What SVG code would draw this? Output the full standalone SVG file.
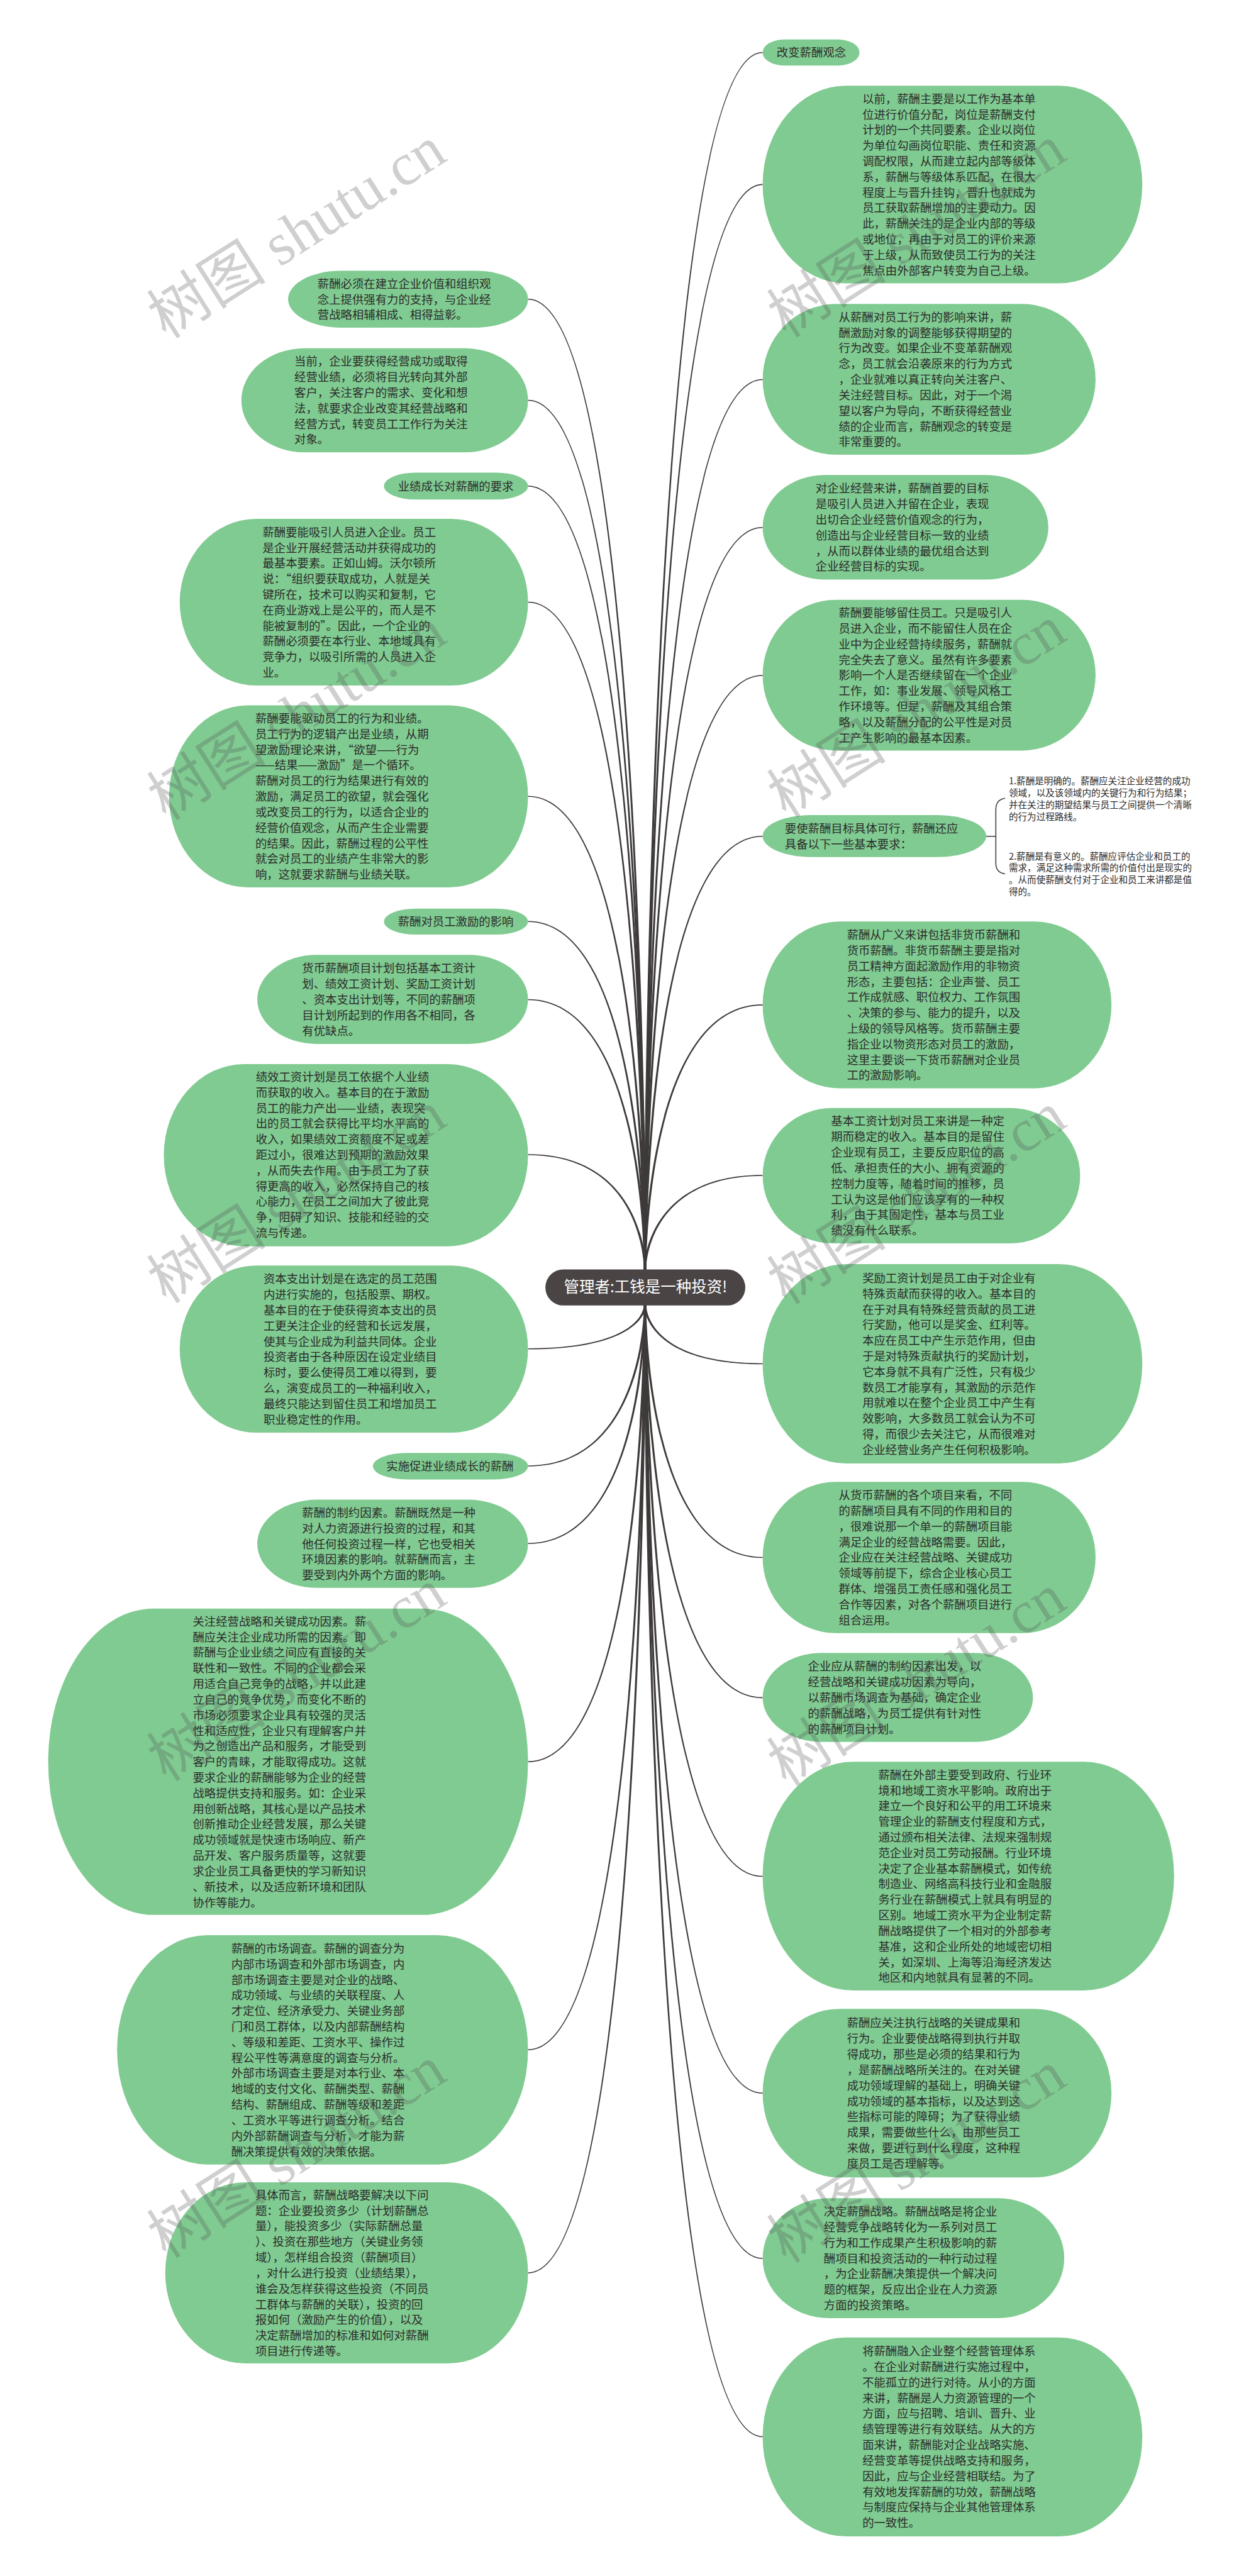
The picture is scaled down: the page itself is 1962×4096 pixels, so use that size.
<svg xmlns="http://www.w3.org/2000/svg" width="1962" height="4096" viewBox="0 0 1962 4096">
<style>
.n{fill:#80cb91}
.t{font-family:"Noto Sans CJK SC","Noto Sans",sans-serif;font-size:24px;fill:#2b2b2b}
.s{font-family:"Noto Sans CJK SC","Noto Sans",sans-serif;font-size:19px;fill:#2b2b2b}
.c{fill:#3e3a3a}
.b{fill:none;stroke:#3e3a3a;stroke-width:2}
.w{font-family:"Liberation Serif","Noto Sans CJK SC",serif;font-size:124px;fill:#555555;opacity:0.28}
</style>
<rect width="1962" height="4096" fill="#ffffff"/>
<g transform="scale(0.766)">
<g id="connectors">
<path class="c" d="M1336.5 2635C1336.5 2635 1337.5 107.5 1583 108L1583 110C1340.5 110.5 1341.5 2635 1341.5 2635Z"/>
<path class="c" d="M1336.5 2635C1336.5 2635 1337.5 381.5 1583 382L1583 384C1340.5 384.5 1341.5 2635 1341.5 2635Z"/>
<path class="c" d="M1336.5 2635C1336.5 2635 1337.5 786.5 1583 787L1583 789C1340.5 789.5 1341.5 2635 1341.5 2635Z"/>
<path class="c" d="M1336.5 2635C1336.5 2635 1337.5 1093.5 1583 1094L1583 1096C1340.5 1096.5 1341.5 2635 1341.5 2635Z"/>
<path class="c" d="M1336.5 2635C1336.5 2635 1337.5 1400.5 1583 1401L1583 1403C1340.5 1403.5 1341.5 2635 1341.5 2635Z"/>
<path class="c" d="M1336.5 2635C1336.5 2635 1337.5 1734.5 1583 1735L1583 1737C1340.5 1737.5 1341.5 2635 1341.5 2635Z"/>
<path class="c" d="M1336.5 2635C1336.5 2635 1337.5 2084.5 1583 2085L1583 2087C1340.5 2087.5 1341.5 2635 1341.5 2635Z"/>
<path class="c" d="M1336.5 2635C1336.5 2635 1337.5 2438.5 1583 2439L1583 2441C1340.5 2441.5 1341.5 2635 1341.5 2635Z"/>
<path class="c" d="M1336.5 2710C1336.5 2710 1337.5 2832.5 1583 2832L1583 2830C1340.5 2829.5 1341.5 2710 1341.5 2710Z"/>
<path class="c" d="M1336.5 2710C1336.5 2710 1337.5 3234.5 1583 3234L1583 3232C1340.5 3231.5 1341.5 2710 1341.5 2710Z"/>
<path class="c" d="M1336.5 2710C1336.5 2710 1337.5 3525.5 1583 3525L1583 3523C1340.5 3522.5 1341.5 2710 1341.5 2710Z"/>
<path class="c" d="M1336.5 2710C1336.5 2710 1337.5 3896.5 1583 3896L1583 3894C1340.5 3893.5 1341.5 2710 1341.5 2710Z"/>
<path class="c" d="M1336.5 2710C1336.5 2710 1337.5 4346.5 1583 4346L1583 4344C1340.5 4343.5 1341.5 2710 1341.5 2710Z"/>
<path class="c" d="M1336.5 2710C1336.5 2710 1337.5 4689.5 1583 4689L1583 4687C1340.5 4686.5 1341.5 2710 1341.5 2710Z"/>
<path class="c" d="M1336.5 2710C1336.5 2710 1337.5 5059.5 1583 5059L1583 5057C1340.5 5056.5 1341.5 2710 1341.5 2710Z"/>
<path class="c" d="M1341.5 2635C1341.5 2635 1340.5 619.5 1096 620L1096 622C1337.5 622.5 1336.5 2635 1336.5 2635Z"/>
<path class="c" d="M1341.5 2635C1341.5 2635 1340.5 829.5 1096 830L1096 832C1337.5 832.5 1336.5 2635 1336.5 2635Z"/>
<path class="c" d="M1341.5 2635C1341.5 2635 1340.5 1007.5 1096 1008L1096 1010C1337.5 1010.5 1336.5 2635 1336.5 2635Z"/>
<path class="c" d="M1341.5 2635C1341.5 2635 1340.5 1248.5 1096 1249L1096 1251C1337.5 1251.5 1336.5 2635 1336.5 2635Z"/>
<path class="c" d="M1341.5 2635C1341.5 2635 1340.5 1651.5 1096 1652L1096 1654C1337.5 1654.5 1336.5 2635 1336.5 2635Z"/>
<path class="c" d="M1341.5 2635C1341.5 2635 1340.5 1911.5 1096 1912L1096 1914C1337.5 1914.5 1336.5 2635 1336.5 2635Z"/>
<path class="c" d="M1341.5 2635C1341.5 2635 1340.5 2073.5 1096 2074L1096 2076C1337.5 2076.5 1336.5 2635 1336.5 2635Z"/>
<path class="c" d="M1341.5 2635C1341.5 2635 1340.5 2395.5 1096 2396L1096 2398C1337.5 2398.5 1336.5 2635 1336.5 2635Z"/>
<path class="c" d="M1341.5 2710C1341.5 2710 1340.5 2801.5 1096 2801L1096 2799C1337.5 2798.5 1336.5 2710 1336.5 2710Z"/>
<path class="c" d="M1341.5 2710C1341.5 2710 1340.5 3044.5 1096 3044L1096 3042C1337.5 3041.5 1336.5 2710 1336.5 2710Z"/>
<path class="c" d="M1341.5 2710C1341.5 2710 1340.5 3205.5 1096 3205L1096 3203C1337.5 3202.5 1336.5 2710 1336.5 2710Z"/>
<path class="c" d="M1341.5 2710C1341.5 2710 1340.5 3658.5 1096 3658L1096 3656C1337.5 3655.5 1336.5 2710 1336.5 2710Z"/>
<path class="c" d="M1341.5 2710C1341.5 2710 1340.5 4256.5 1096 4256L1096 4254C1337.5 4253.5 1336.5 2710 1336.5 2710Z"/>
<path class="c" d="M1341.5 2710C1341.5 2710 1340.5 4719.5 1096 4719L1096 4717C1337.5 4716.5 1336.5 2710 1336.5 2710Z"/>
<path class="b" d="M2047 1736L2067 1736M2086 1657Q2067 1660 2067 1680L2067 1792Q2067 1811 2086 1814"/>
</g>
<g id="center">
<rect x="1132" y="2635" width="415" height="75" rx="37.5" fill="#4a4444"/>
<text x="1340" y="2683" text-anchor="middle" style="font-family:'Noto Sans CJK SC','Noto Sans',sans-serif;font-size:32px;fill:#ffffff">管理者:工钱是一种投资!</text>
</g>
<g id="r0"><rect class="n" x="1583" y="82" width="201" height="54" rx="44" ry="27"/><text class="t" x="1612" y="118">改变薪酬观念</text></g>
<g id="r1"><rect class="n" x="1583" y="178" width="788" height="410" rx="173" ry="205"/><text class="t" y="213.8"><tspan x="1790">以前，薪酬主要是以工作为基本单</tspan><tspan x="1790" dy="32.4">位进行价值分配，岗位是薪酬支付</tspan><tspan x="1790" dy="32.4">计划的一个共同要素。企业以岗位</tspan><tspan x="1790" dy="32.4">为单位勾画岗位职能、责任和资源</tspan><tspan x="1790" dy="32.4">调配权限，从而建立起内部等级体</tspan><tspan x="1790" dy="32.4">系，薪酬与等级体系匹配，在很大</tspan><tspan x="1790" dy="32.4">程度上与晋升挂钩，晋升也就成为</tspan><tspan x="1790" dy="32.4">员工获取薪酬增加的主要动力。因</tspan><tspan x="1790" dy="32.4">此，薪酬关注的是企业内部的等级</tspan><tspan x="1790" dy="32.4">或地位，再由于对员工的评价来源</tspan><tspan x="1790" dy="32.4">于上级，从而致使员工行为的关注</tspan><tspan x="1790" dy="32.4">焦点由外部客户转变为自己上级。</tspan></text></g>
<g id="r2"><rect class="n" x="1583" y="631" width="691" height="313" rx="152" ry="156.5"/><text class="t" y="666.9"><tspan x="1741">从薪酬对员工行为的影响来讲，薪</tspan><tspan x="1741" dy="32.4">酬激励对象的调整能够获得期望的</tspan><tspan x="1741" dy="32.4">行为改变。如果企业不变革薪酬观</tspan><tspan x="1741" dy="32.4">念，员工就会沿袭原来的行为方式</tspan><tspan x="1741" dy="32.4">，企业就难以真正转向关注客户、</tspan><tspan x="1741" dy="32.4">关注经营目标。因此，对于一个渴</tspan><tspan x="1741" dy="32.4">望以客户为导向，不断获得经营业</tspan><tspan x="1741" dy="32.4">绩的企业而言，薪酬观念的转变是</tspan><tspan x="1741" dy="32.4">非常重要的。</tspan></text></g>
<g id="r3"><rect class="n" x="1583" y="986" width="593" height="217" rx="130" ry="108.5"/><text class="t" y="1022.5"><tspan x="1693">对企业经营来讲，薪酬首要的目标</tspan><tspan x="1693" dy="32.4">是吸引人员进入并留在企业，表现</tspan><tspan x="1693" dy="32.4">出切合企业经营价值观念的行为，</tspan><tspan x="1693" dy="32.4">创造出与企业经营目标一致的业绩</tspan><tspan x="1693" dy="32.4">，从而以群体业绩的最优组合达到</tspan><tspan x="1693" dy="32.4">企业经营目标的实现。</tspan></text></g>
<g id="r4"><rect class="n" x="1583" y="1245" width="691" height="313" rx="152" ry="156.5"/><text class="t" y="1280.9"><tspan x="1741">薪酬要能够留住员工。只是吸引人</tspan><tspan x="1741" dy="32.4">员进入企业，而不能留住人员在企</tspan><tspan x="1741" dy="32.4">业中为企业经营持续服务，薪酬就</tspan><tspan x="1741" dy="32.4">完全失去了意义。虽然有许多要素</tspan><tspan x="1741" dy="32.4">影响一个人是否继续留在一个企业</tspan><tspan x="1741" dy="32.4">工作，如：事业发展、领导风格工</tspan><tspan x="1741" dy="32.4">作环境等。但是，薪酬及其组合策</tspan><tspan x="1741" dy="32.4">略，以及薪酬分配的公平性是对员</tspan><tspan x="1741" dy="32.4">工产生影响的最基本因素。</tspan></text></g>
<g id="r5"><rect class="n" x="1583" y="1692" width="464" height="87" rx="102" ry="43.5"/><text class="t" y="1728.3"><tspan x="1629">要使薪酬目标具体可行，薪酬还应</tspan><tspan x="1629" dy="32.4">具备以下一些基本要求：</tspan></text></g>
<g id="r5a"><text class="s" y="1628"><tspan x="2094">1.薪酬是明确的。薪酬应关注企业经营的成功</tspan><tspan x="2094" dy="24.7">领域，以及该领域内的关键行为和行为结果；</tspan><tspan x="2094" dy="24.7">并在关注的期望结果与员工之间提供一个清晰</tspan><tspan x="2094" dy="24.7">的行为过程路线。</tspan></text></g>
<g id="r5b"><text class="s" y="1784"><tspan x="2094">2.薪酬是有意义的。薪酬应评估企业和员工的</tspan><tspan x="2094" dy="24.7">需求，满足这种需求所需的价值付出是现实的</tspan><tspan x="2094" dy="24.7">。从而使薪酬支付对于企业和员工来讲都是值</tspan><tspan x="2094" dy="24.7">得的。</tspan></text></g>
<g id="r6"><rect class="n" x="1583" y="1913" width="724" height="346" rx="159" ry="173"/><text class="t" y="1949.2"><tspan x="1758">薪酬从广义来讲包括非货币薪酬和</tspan><tspan x="1758" dy="32.4">货币薪酬。非货币薪酬主要是指对</tspan><tspan x="1758" dy="32.4">员工精神方面起激励作用的非物资</tspan><tspan x="1758" dy="32.4">形态，主要包括：企业声誉、员工</tspan><tspan x="1758" dy="32.4">工作成就感、职位权力、工作氛围</tspan><tspan x="1758" dy="32.4">、决策的参与、能力的提升，以及</tspan><tspan x="1758" dy="32.4">上级的领导风格等。货币薪酬主要</tspan><tspan x="1758" dy="32.4">指企业以物资形态对员工的激励，</tspan><tspan x="1758" dy="32.4">这里主要谈一下货币薪酬对企业员</tspan><tspan x="1758" dy="32.4">工的激励影响。</tspan></text></g>
<g id="r7"><rect class="n" x="1583" y="2300" width="659" height="281" rx="145" ry="140.5"/><text class="t" y="2336.1"><tspan x="1725">基本工资计划对员工来讲是一种定</tspan><tspan x="1725" dy="32.4">期而稳定的收入。基本目的是留住</tspan><tspan x="1725" dy="32.4">企业现有员工，主要反应职位的高</tspan><tspan x="1725" dy="32.4">低、承担责任的大小、拥有资源的</tspan><tspan x="1725" dy="32.4">控制力度等，随着时间的推移，员</tspan><tspan x="1725" dy="32.4">工认为这是他们应该享有的一种权</tspan><tspan x="1725" dy="32.4">利，由于其固定性，基本与员工业</tspan><tspan x="1725" dy="32.4">绩没有什么联系。</tspan></text></g>
<g id="r8"><rect class="n" x="1583" y="2624" width="788" height="414" rx="173" ry="207"/><text class="t" y="2661.8"><tspan x="1790">奖励工资计划是员工由于对企业有</tspan><tspan x="1790" dy="32.4">特殊贡献而获得的收入。基本目的</tspan><tspan x="1790" dy="32.4">在于对具有特殊经营贡献的员工进</tspan><tspan x="1790" dy="32.4">行奖励，他可以是奖金、红利等。</tspan><tspan x="1790" dy="32.4">本应在员工中产生示范作用，但由</tspan><tspan x="1790" dy="32.4">于是对特殊贡献执行的奖励计划，</tspan><tspan x="1790" dy="32.4">它本身就不具有广泛性，只有极少</tspan><tspan x="1790" dy="32.4">数员工才能享有，其激励的示范作</tspan><tspan x="1790" dy="32.4">用就难以在整个企业员工中产生有</tspan><tspan x="1790" dy="32.4">效影响，大多数员工就会认为不可</tspan><tspan x="1790" dy="32.4">得，而很少去关注它，从而很难对</tspan><tspan x="1790" dy="32.4">企业经营业务产生任何积极影响。</tspan></text></g>
<g id="r9"><rect class="n" x="1583" y="3076" width="691" height="314" rx="152" ry="157"/><text class="t" y="3112.4"><tspan x="1741">从货币薪酬的各个项目来看，不同</tspan><tspan x="1741" dy="32.4">的薪酬项目具有不同的作用和目的</tspan><tspan x="1741" dy="32.4">，很难说那一个单一的薪酬项目能</tspan><tspan x="1741" dy="32.4">满足企业的经营战略需要。因此，</tspan><tspan x="1741" dy="32.4">企业应在关注经营战略、关键成功</tspan><tspan x="1741" dy="32.4">领域等前提下，综合企业核心员工</tspan><tspan x="1741" dy="32.4">群体、增强员工责任感和强化员工</tspan><tspan x="1741" dy="32.4">合作等因素，对各个薪酬项目进行</tspan><tspan x="1741" dy="32.4">组合运用。</tspan></text></g>
<g id="r10"><rect class="n" x="1583" y="3431" width="561" height="185" rx="123" ry="92.5"/><text class="t" y="3467.7"><tspan x="1677">企业应从薪酬的制约因素出发，以</tspan><tspan x="1677" dy="32.4">经营战略和关键成功因素为导向，</tspan><tspan x="1677" dy="32.4">以薪酬市场调查为基础，确定企业</tspan><tspan x="1677" dy="32.4">的薪酬战略，为员工提供有针对性</tspan><tspan x="1677" dy="32.4">的薪酬项目计划。</tspan></text></g>
<g id="r11"><rect class="n" x="1583" y="3657" width="854" height="475" rx="188" ry="237.5"/><text class="t" y="3692.9"><tspan x="1823">薪酬在外部主要受到政府、行业环</tspan><tspan x="1823" dy="32.4">境和地域工资水平影响。政府出于</tspan><tspan x="1823" dy="32.4">建立一个良好和公平的用工环境来</tspan><tspan x="1823" dy="32.4">管理企业的薪酬支付程度和方式，</tspan><tspan x="1823" dy="32.4">通过颁布相关法律、法规来强制规</tspan><tspan x="1823" dy="32.4">范企业对员工劳动报酬。行业环境</tspan><tspan x="1823" dy="32.4">决定了企业基本薪酬模式，如传统</tspan><tspan x="1823" dy="32.4">制造业、网络高科技行业和金融服</tspan><tspan x="1823" dy="32.4">务行业在薪酬模式上就具有明显的</tspan><tspan x="1823" dy="32.4">区别。地域工资水平为企业制定薪</tspan><tspan x="1823" dy="32.4">酬战略提供了一个相对的外部参考</tspan><tspan x="1823" dy="32.4">基准，这和企业所处的地域密切相</tspan><tspan x="1823" dy="32.4">关，如深圳、上海等沿海经济发达</tspan><tspan x="1823" dy="32.4">地区和内地就具有显著的不同。</tspan></text></g>
<g id="r12"><rect class="n" x="1583" y="4170" width="724" height="350" rx="159" ry="175"/><text class="t" y="4208.2"><tspan x="1758">薪酬应关注执行战略的关键成果和</tspan><tspan x="1758" dy="32.4">行为。企业要使战略得到执行并取</tspan><tspan x="1758" dy="32.4">得成功，那些是必须的结果和行为</tspan><tspan x="1758" dy="32.4">，是薪酬战略所关注的。在对关键</tspan><tspan x="1758" dy="32.4">成功领域理解的基础上，明确关键</tspan><tspan x="1758" dy="32.4">成功领域的基本指标，以及达到这</tspan><tspan x="1758" dy="32.4">些指标可能的障碍；为了获得业绩</tspan><tspan x="1758" dy="32.4">成果，需要做些什么，由那些员工</tspan><tspan x="1758" dy="32.4">来做，要进行到什么程度，这种程</tspan><tspan x="1758" dy="32.4">度员工是否理解等。</tspan></text></g>
<g id="r13"><rect class="n" x="1583" y="4563" width="626" height="249" rx="138" ry="124.5"/><text class="t" y="4599.3"><tspan x="1710">决定薪酬战略。薪酬战略是将企业</tspan><tspan x="1710" dy="32.4">经营竞争战略转化为一系列对员工</tspan><tspan x="1710" dy="32.4">行为和工作成果产生积极影响的薪</tspan><tspan x="1710" dy="32.4">酬项目和投资活动的一种行动过程</tspan><tspan x="1710" dy="32.4">，为企业薪酬决策提供一个解决问</tspan><tspan x="1710" dy="32.4">题的框架，反应出企业在人力资源</tspan><tspan x="1710" dy="32.4">方面的投资策略。</tspan></text></g>
<g id="r14"><rect class="n" x="1583" y="4852" width="788" height="413" rx="173" ry="206.5"/><text class="t" y="4889.3"><tspan x="1790">将薪酬融入企业整个经营管理体系</tspan><tspan x="1790" dy="32.4">。在企业对薪酬进行实施过程中，</tspan><tspan x="1790" dy="32.4">不能孤立的进行对待。从小的方面</tspan><tspan x="1790" dy="32.4">来讲，薪酬是人力资源管理的一个</tspan><tspan x="1790" dy="32.4">方面，应与招聘、培训、晋升、业</tspan><tspan x="1790" dy="32.4">绩管理等进行有效联结。从大的方</tspan><tspan x="1790" dy="32.4">面来讲，薪酬能对企业战略实施、</tspan><tspan x="1790" dy="32.4">经营变革等提供战略支持和服务，</tspan><tspan x="1790" dy="32.4">因此，应与企业经营相联结。为了</tspan><tspan x="1790" dy="32.4">有效地发挥薪酬的功效，薪酬战略</tspan><tspan x="1790" dy="32.4">与制度应保持与企业其他管理体系</tspan><tspan x="1790" dy="32.4">的一致性。</tspan></text></g>
<g id="l0"><rect class="n" x="598" y="562" width="498" height="118" rx="110" ry="59"/><text class="t" y="597.6"><tspan x="659">薪酬必须在建立企业价值和组织观</tspan><tspan x="659" dy="32.4">念上提供强有力的支持，与企业经</tspan><tspan x="659" dy="32.4">营战略相辅相成、相得益彰。</tspan></text></g>
<g id="l1"><rect class="n" x="501" y="723" width="595" height="216" rx="131" ry="108"/><text class="t" y="759"><tspan x="611">当前，企业要获得经营成功或取得</tspan><tspan x="611" dy="32.4">经营业绩，必须将目光转向其外部</tspan><tspan x="611" dy="32.4">客户，关注客户的需求、变化和想</tspan><tspan x="611" dy="32.4">法，就要求企业改变其经营战略和</tspan><tspan x="611" dy="32.4">经营方式，转变员工工作行为关注</tspan><tspan x="611" dy="32.4">对象。</tspan></text></g>
<g id="l2"><rect class="n" x="797" y="981" width="299" height="56" rx="66" ry="28"/><text class="t" x="826" y="1018">业绩成长对薪酬的要求</text></g>
<g id="l3"><rect class="n" x="373" y="1077" width="723" height="346" rx="159" ry="173"/><text class="t" y="1113.2"><tspan x="545">薪酬要能吸引人员进入企业。员工</tspan><tspan x="545" dy="32.4">是企业开展经营活动并获得成功的</tspan><tspan x="545" dy="32.4">最基本要素。正如山姆。沃尔顿所</tspan><tspan x="545" dy="32.4">说：“组织要获取成功，人就是关</tspan><tspan x="545" dy="32.4">键所在，技术可以购买和复制，它</tspan><tspan x="545" dy="32.4">在商业游戏上是公平的，而人是不</tspan><tspan x="545" dy="32.4">能被复制的”。因此，一个企业的</tspan><tspan x="545" dy="32.4">薪酬必须要在本行业、本地域具有</tspan><tspan x="545" dy="32.4">竞争力，以吸引所需的人员进入企</tspan><tspan x="545" dy="32.4">业。</tspan></text></g>
<g id="l4"><rect class="n" x="351" y="1464" width="745" height="378" rx="164" ry="189"/><text class="t" y="1500"><tspan x="530">薪酬要能驱动员工的行为和业绩。</tspan><tspan x="530" dy="32.4">员工行为的逻辑产出是业绩，从期</tspan><tspan x="530" dy="32.4">望激励理论来讲，“欲望——行为</tspan><tspan x="530" dy="32.4">——结果——激励”是一个循环。</tspan><tspan x="530" dy="32.4">薪酬对员工的行为结果进行有效的</tspan><tspan x="530" dy="32.4">激励，满足员工的欲望，就会强化</tspan><tspan x="530" dy="32.4">或改变员工的行为，以适合企业的</tspan><tspan x="530" dy="32.4">经营价值观念，从而产生企业需要</tspan><tspan x="530" dy="32.4">的结果。因此，薪酬过程的公平性</tspan><tspan x="530" dy="32.4">就会对员工的业绩产生非常大的影</tspan><tspan x="530" dy="32.4">响，这就要求薪酬与业绩关联。</tspan></text></g>
<g id="l5"><rect class="n" x="797" y="1886" width="299" height="54" rx="66" ry="27"/><text class="t" x="826" y="1922">薪酬对员工激励的影响</text></g>
<g id="l6"><rect class="n" x="534" y="1982" width="562" height="185" rx="124" ry="92.5"/><text class="t" y="2018.7"><tspan x="627">货币薪酬项目计划包括基本工资计</tspan><tspan x="627" dy="32.4">划、绩效工资计划、奖励工资计划</tspan><tspan x="627" dy="32.4">、资本支出计划等，不同的薪酬项</tspan><tspan x="627" dy="32.4">目计划所起到的作用各不相同，各</tspan><tspan x="627" dy="32.4">有优缺点。</tspan></text></g>
<g id="l7"><rect class="n" x="340" y="2209" width="756" height="378" rx="166" ry="189"/><text class="t" y="2244"><tspan x="531">绩效工资计划是员工依据个人业绩</tspan><tspan x="531" dy="32.4">而获取的收入。基本目的在于激励</tspan><tspan x="531" dy="32.4">员工的能力产出——业绩，表现突</tspan><tspan x="531" dy="32.4">出的员工就会获得比平均水平高的</tspan><tspan x="531" dy="32.4">收入，如果绩效工资额度不足或差</tspan><tspan x="531" dy="32.4">距过小，很难达到预期的激励效果</tspan><tspan x="531" dy="32.4">，从而失去作用。由于员工为了获</tspan><tspan x="531" dy="32.4">得更高的收入，必然保持自己的核</tspan><tspan x="531" dy="32.4">心能力，在员工之间加大了彼此竞</tspan><tspan x="531" dy="32.4">争，阻碍了知识、技能和经验的交</tspan><tspan x="531" dy="32.4">流与传递。</tspan></text></g>
<g id="l8"><rect class="n" x="373" y="2627" width="723" height="347" rx="159" ry="173.5"/><text class="t" y="2663.7"><tspan x="547">资本支出计划是在选定的员工范围</tspan><tspan x="547" dy="32.4">内进行实施的，包括股票、期权。</tspan><tspan x="547" dy="32.4">基本目的在于使获得资本支出的员</tspan><tspan x="547" dy="32.4">工更关注企业的经营和长远发展，</tspan><tspan x="547" dy="32.4">使其与企业成为利益共同体。企业</tspan><tspan x="547" dy="32.4">投资者由于各种原因在设定业绩目</tspan><tspan x="547" dy="32.4">标时，要么使得员工难以得到，要</tspan><tspan x="547" dy="32.4">么，演变成员工的一种福利收入，</tspan><tspan x="547" dy="32.4">最终只能达到留住员工和增加员工</tspan><tspan x="547" dy="32.4">职业稳定性的作用。</tspan></text></g>
<g id="l9"><rect class="n" x="774" y="3016" width="322" height="55" rx="71" ry="27.5"/><text class="t" x="802" y="3052.5">实施促进业绩成长的薪酬</text></g>
<g id="l10"><rect class="n" x="534" y="3113" width="562" height="183" rx="124" ry="91.5"/><text class="t" y="3148.7"><tspan x="627">薪酬的制约因素。薪酬既然是一种</tspan><tspan x="627" dy="32.4">对人力资源进行投资的过程，和其</tspan><tspan x="627" dy="32.4">他任何投资过程一样，它也受相关</tspan><tspan x="627" dy="32.4">环境因素的影响。就薪酬而言，主</tspan><tspan x="627" dy="32.4">要受到内外两个方面的影响。</tspan></text></g>
<g id="l11"><rect class="n" x="100" y="3339" width="996" height="636" rx="219" ry="318"/><text class="t" y="3374.4"><tspan x="400">关注经营战略和关键成功因素。薪</tspan><tspan x="400" dy="32.4">酬应关注企业成功所需的因素。即</tspan><tspan x="400" dy="32.4">薪酬与企业业绩之间应有直接的关</tspan><tspan x="400" dy="32.4">联性和一致性。不同的企业都会采</tspan><tspan x="400" dy="32.4">用适合自己竞争的战略，并以此建</tspan><tspan x="400" dy="32.4">立自己的竞争优势，而变化不断的</tspan><tspan x="400" dy="32.4">市场必须要求企业具有较强的灵活</tspan><tspan x="400" dy="32.4">性和适应性，企业只有理解客户并</tspan><tspan x="400" dy="32.4">为之创造出产品和服务，才能受到</tspan><tspan x="400" dy="32.4">客户的青睐，才能取得成功。这就</tspan><tspan x="400" dy="32.4">要求企业的薪酬能够为企业的经营</tspan><tspan x="400" dy="32.4">战略提供支持和服务。如：企业采</tspan><tspan x="400" dy="32.4">用创新战略，其核心是以产品技术</tspan><tspan x="400" dy="32.4">创新推动企业经营发展，那么关键</tspan><tspan x="400" dy="32.4">成功领域就是快速市场响应、新产</tspan><tspan x="400" dy="32.4">品开发、客户服务质量等，这就要</tspan><tspan x="400" dy="32.4">求企业员工具备更快的学习新知识</tspan><tspan x="400" dy="32.4">、新技术，以及适应新环境和团队</tspan><tspan x="400" dy="32.4">协作等能力。</tspan></text></g>
<g id="l12"><rect class="n" x="243" y="4017" width="853" height="476" rx="188" ry="238"/><text class="t" y="4053.4"><tspan x="480">薪酬的市场调查。薪酬的调查分为</tspan><tspan x="480" dy="32.4">内部市场调查和外部市场调查，内</tspan><tspan x="480" dy="32.4">部市场调查主要是对企业的战略、</tspan><tspan x="480" dy="32.4">成功领域、与业绩的关联程度、人</tspan><tspan x="480" dy="32.4">才定位、经济承受力、关键业务部</tspan><tspan x="480" dy="32.4">门和员工群体，以及内部薪酬结构</tspan><tspan x="480" dy="32.4">、等级和差距、工资水平、操作过</tspan><tspan x="480" dy="32.4">程公平性等满意度的调查与分析。</tspan><tspan x="480" dy="32.4">外部市场调查主要是对本行业、本</tspan><tspan x="480" dy="32.4">地域的支付文化、薪酬类型、薪酬</tspan><tspan x="480" dy="32.4">结构、薪酬组成、薪酬等级和差距</tspan><tspan x="480" dy="32.4">、工资水平等进行调查分析。结合</tspan><tspan x="480" dy="32.4">内外部薪酬调查与分析，才能为薪</tspan><tspan x="480" dy="32.4">酬决策提供有效的决策依据。</tspan></text></g>
<g id="l13"><rect class="n" x="343" y="4530" width="753" height="376" rx="166" ry="188"/><text class="t" y="4565"><tspan x="530">具体而言，薪酬战略要解决以下问</tspan><tspan x="530" dy="32.4">题：企业要投资多少（计划薪酬总</tspan><tspan x="530" dy="32.4">量），能投资多少（实际薪酬总量</tspan><tspan x="530" dy="32.4">）、投资在那些地方（关键业务领</tspan><tspan x="530" dy="32.4">域），怎样组合投资（薪酬项目）</tspan><tspan x="530" dy="32.4">，对什么进行投资（业绩结果），</tspan><tspan x="530" dy="32.4">谁会及怎样获得这些投资（不同员</tspan><tspan x="530" dy="32.4">工群体与薪酬的关联），投资的回</tspan><tspan x="530" dy="32.4">报如何（激励产生的价值），以及</tspan><tspan x="530" dy="32.4">决定薪酬增加的标准和如何对薪酬</tspan><tspan x="530" dy="32.4">项目进行传递等。</tspan></text></g>
<g id="watermark">
<text class="w" transform="translate(345 705) rotate(-32.5)">树图 shutu.cn</text>
<text class="w" transform="translate(345 1705) rotate(-32.5)">树图 shutu.cn</text>
<text class="w" transform="translate(345 2708) rotate(-32.5)">树图 shutu.cn</text>
<text class="w" transform="translate(345 3700) rotate(-32.5)">树图 shutu.cn</text>
<text class="w" transform="translate(345 4690) rotate(-32.5)">树图 shutu.cn</text>
<text class="w" transform="translate(1632 703) rotate(-32.5)">树图 shutu.cn</text>
<text class="w" transform="translate(1632 1700) rotate(-32.5)">树图 shutu.cn</text>
<text class="w" transform="translate(1632 2710) rotate(-32.5)">树图 shutu.cn</text>
<text class="w" transform="translate(1632 3710) rotate(-32.5)">树图 shutu.cn</text>
<text class="w" transform="translate(1632 4700) rotate(-32.5)">树图 shutu.cn</text>
</g>
</g>
</svg>
